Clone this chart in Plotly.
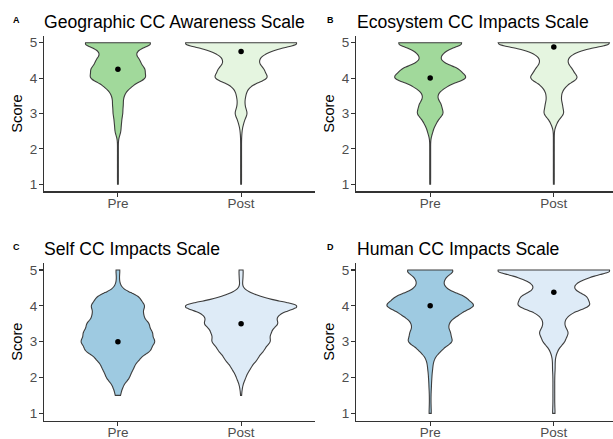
import numpy as np
import plotly.graph_objects as go

# score levels (scale averages) used by the counts below
levels = [1.0, 1.25, 1.5, 1.75, 2.0, 2.25, 2.5, 2.75, 3.0,
          3.25, 3.5, 3.75, 4.0, 4.25, 4.5, 4.75, 5.0]
groups = ["Pre", "Post"]

# respondents per score level
geo_pre = [1, 1, 1, 1, 1, 1, 7, 8, 11, 12, 13, 28, 65, 61, 49, 37, 89]
geo_post = [1, 1, 1, 1, 1, 1, 2, 6, 15, 8, 10, 17, 64, 51, 37, 60, 153]
eco_pre = [1, 1, 1, 1, 1, 1, 6, 14, 31, 25, 14, 33, 87, 66, 20, 30, 87]
eco_post = [1, 1, 1, 1, 1, 1, 1, 7, 24, 19, 16, 24, 57, 41, 28, 48, 155]
self_pre = [0, 0, 6, 11, 27, 35, 47, 75, 85, 78, 71, 56, 62, 50, 7, 3, 5]
self_post = [0, 0, 1, 3, 10, 20, 35, 49, 65, 63, 82, 76, 140, 38, 2, 4, 5]
human_pre = [3, 2, 2, 3, 4, 6, 9, 26, 57, 49, 43, 68, 113, 87, 34, 33, 66]
human_post = [3, 2, 2, 2, 2, 3, 3, 8, 25, 34, 22, 32, 85, 76, 39, 64, 152]

# medians (black dots)
geo_median = [4.25, 4.75]
eco_median = [4.0, 4.875]
self_median = [3.0, 3.5]
human_median = [4.0, 4.375]

titles = ["Geographic CC Awareness Scale", "Ecosystem CC Impacts Scale",
          "Self CC Impacts Scale", "Human CC Impacts Scale"]
letters = ["A", "B", "C", "D"]
y_ticks = [1, 2, 3, 4, 5]

greens = ["#a1d99b", "#e5f5e0"]
blues = ["#9ecae1", "#deebf7"]

panels = [
    (geo_pre, geo_post, geo_median, greens),
    (eco_pre, eco_post, eco_median, greens),
    (self_pre, self_post, self_median, blues),
    (human_pre, human_post, human_median, blues),
]

W, H = 613, 439
x_doms = [[44 / W, 315 / W], [356 / W, 1.0]]
y_doms = [[1 - 191.4 / H, 1 - 35.6 / H], [1 - 420.5 / H, 1 - 262.8 / H]]
x_ranges = [[-0.6, 1.6], [-0.6, 1.6 - 15 / 123.6]]

fig = go.Figure()
layout = dict(template="none", width=W, height=H,
              margin=dict(l=0, r=0, t=0, b=0, autoexpand=False),
              paper_bgcolor="white", plot_bgcolor="white",
              showlegend=False, violinmode="overlay",
              violingap=0.1, violingroupgap=0.0,
              font=dict(family="Liberation Sans, Arial, sans-serif"))

annotations = []
for i, (pre, post, med, cols) in enumerate(panels):
    n = "" if i == 0 else str(i + 1)
    xa, ya = "x" + n, "y" + n
    col, row = i % 2, i // 2
    # area-style scaling shared by the two violins of a panel
    mode = "count" if sum(post) >= sum(pre) else "width"
    for g, cnt, fc in zip(groups, [pre, post], cols):
        data = np.repeat(levels, cnt)
        fig.add_trace(go.Violin(
            y=data, x0=g, xaxis=xa, yaxis=ya, name=g,
            bandwidth=0.13, spanmode="hard",
            scalegroup=letters[i], scalemode=mode,
            fillcolor=fc, opacity=1,
            line=dict(color="#3d3d3d", width=1.1),
            points=False, box_visible=False, meanline_visible=False,
            hoverinfo="skip"))
    fig.add_trace(go.Scatter(
        x=groups, y=med, xaxis=xa, yaxis=ya, mode="markers",
        marker=dict(color="black", size=5.5), hoverinfo="skip"))

    layout["xaxis" + n] = dict(
        domain=x_doms[col], type="category", categoryarray=groups,
        categoryorder="array", range=x_ranges[col], automargin=False,
        showline=True, linecolor="#333333", linewidth=1.1,
        ticks="outside", ticklen=4, tickcolor="#333333", tickwidth=1.1,
        tickfont=dict(size=13.5, color="#4d4d4d"), ticklabelstandoff=-5,
        showgrid=False, zeroline=False, anchor=ya, fixedrange=True)
    layout["yaxis" + n] = dict(
        domain=y_doms[row], range=[0.8, 5.2], tickvals=y_ticks,
        automargin=False,
        showline=True, linecolor="#333333", linewidth=1.1,
        ticks="outside", ticklen=4, tickcolor="#333333", tickwidth=1.1,
        tickfont=dict(size=13.5, color="#4d4d4d"), ticklabelstandoff=-1,
        title=dict(text="Score", font=dict(size=14.7, color="black"),
                   standoff=3),
        showgrid=False, zeroline=False, anchor=xa, fixedrange=True)

    left_px = 42.0 if col == 0 else 355.0
    letter_px = 11 if col == 0 else 325
    cy = 22.0 if row == 0 else 249.0
    annotations.append(dict(
        text=titles[i], x=left_px / W, y=1 - cy / H, xref="paper",
        yref="paper", xanchor="left", yanchor="middle", showarrow=False,
        font=dict(size=17.6, color="black")))
    annotations.append(dict(
        text="<b>" + letters[i] + "</b>", x=letter_px / W,
        y=1 - (cy - 2.5) / H, xref="paper", yref="paper",
        xanchor="left", yanchor="middle", showarrow=False,
        font=dict(size=9, color="black")))

layout["annotations"] = annotations
fig.update_layout(**layout)
fig.write_html("out.html",
               config={"displayModeBar": False, "staticPlot": True},
               post_script="document.body.style.margin='0px';"
                           "document.body.style.overflow='hidden';")
